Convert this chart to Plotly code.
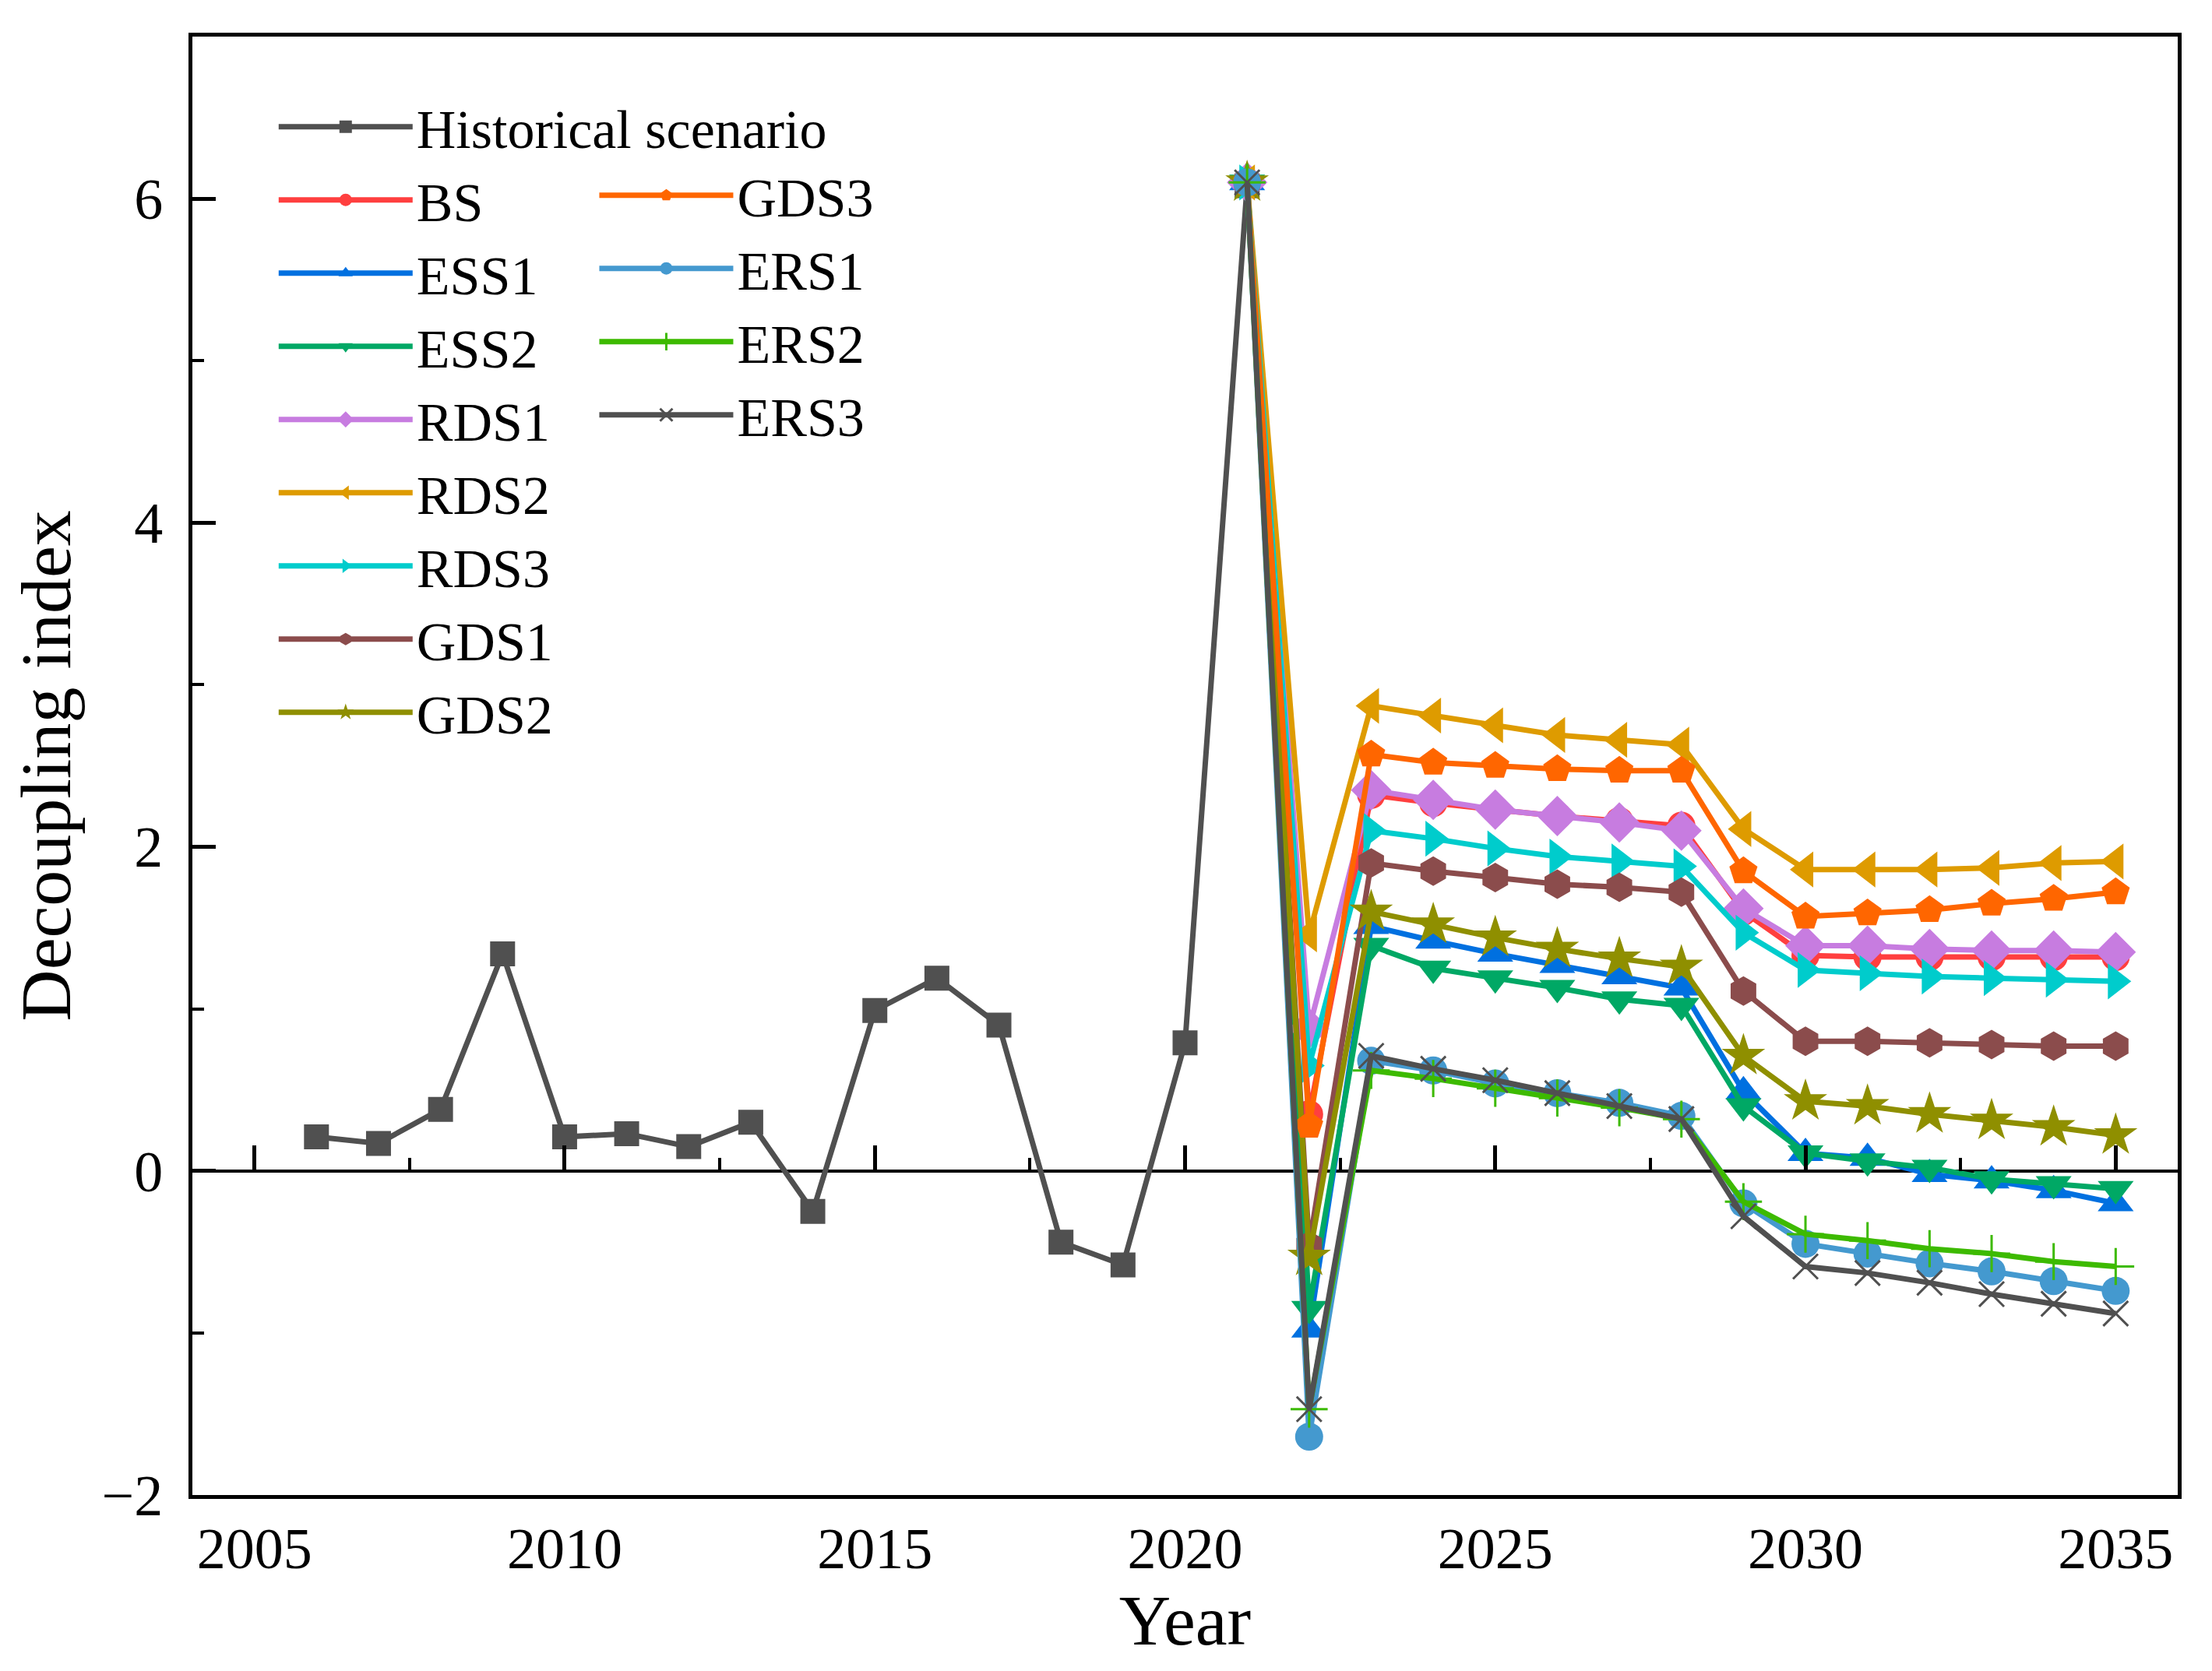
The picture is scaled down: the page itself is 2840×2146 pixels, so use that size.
import plotly.graph_objects as go

# historical decoupling index 2006-2021
hist_years = list(range(2006, 2022))
hist_vals = [0.21, 0.17, 0.38, 1.34, 0.21, 0.23, 0.15, 0.30, -0.25, 0.99,
             1.19, 0.90, -0.44, -0.58, 0.79, 6.08]

# scenario projections 2021-2035
scen_years = list(range(2021, 2036))
bs = [6.1, 0.35, 2.32, 2.27, 2.23, 2.19, 2.16, 2.13, 1.60, 1.33, 1.32, 1.32, 1.32, 1.32, 1.32]
ess1 = [6.1, -0.98, 1.51, 1.42, 1.34, 1.27, 1.20, 1.13, 0.49, 0.11, 0.08, -0.02, -0.06, -0.12, -0.20]
ess2 = [6.1, -0.85, 1.39, 1.25, 1.19, 1.13, 1.06, 1.02, 0.40, 0.11, 0.06, 0.02, -0.05, -0.08, -0.11]
rds1 = [6.1, 0.88, 2.35, 2.29, 2.23, 2.19, 2.15, 2.10, 1.62, 1.39, 1.39, 1.37, 1.36, 1.36, 1.35]
rds2 = [6.1, 1.46, 2.87, 2.81, 2.75, 2.69, 2.66, 2.63, 2.11, 1.86, 1.86, 1.86, 1.87, 1.90, 1.91]
rds3 = [6.1, 0.65, 2.10, 2.05, 1.99, 1.94, 1.91, 1.88, 1.47, 1.24, 1.22, 1.20, 1.19, 1.18, 1.17]
gds1 = [6.1, -0.46, 1.90, 1.85, 1.81, 1.77, 1.75, 1.72, 1.11, 0.80, 0.80, 0.79, 0.78, 0.77, 0.77]
gds2 = [6.1, -0.53, 1.60, 1.52, 1.44, 1.37, 1.31, 1.26, 0.71, 0.43, 0.40, 0.35, 0.31, 0.27, 0.22]
gds3 = [6.1, 0.28, 2.57, 2.52, 2.50, 2.48, 2.47, 2.47, 1.85, 1.57, 1.59, 1.61, 1.65, 1.68, 1.72]
ers1 = [6.1, -1.64, 0.68, 0.62, 0.54, 0.48, 0.42, 0.34, -0.20, -0.45, -0.51, -0.57, -0.62, -0.68, -0.74]
ers2 = [6.1, -1.47, 0.62, 0.57, 0.51, 0.45, 0.39, 0.32, -0.19, -0.39, -0.43, -0.48, -0.51, -0.56, -0.59]
ers3 = [6.1, -1.47, 0.71, 0.63, 0.56, 0.48, 0.40, 0.32, -0.28, -0.59, -0.63, -0.69, -0.76, -0.82, -0.88]

FONT = 'Liberation Serif'

# name, values, colour, symbol, marker size, legend
scenarios = [
    ('BS', bs, '#FF3F3F', 'circle', 36, 'legend'),
    ('ESS1', ess1, '#0070E0', 'triangle-up', 40, 'legend'),
    ('ESS2', ess2, '#00A865', 'triangle-down', 40, 'legend'),
    ('RDS1', rds1, '#C77CE0', 'diamond', 40, 'legend'),
    ('RDS2', rds2, '#DE9B00', 'triangle-left', 40, 'legend'),
    ('RDS3', rds3, '#00CCCC', 'triangle-right', 40, 'legend'),
    ('GDS1', gds1, '#8B4C4C', 'hexagon', 38, 'legend'),
    ('GDS2', gds2, '#8F8F00', 'star', 42, 'legend'),
    ('GDS3', gds3, '#FF6600', 'pentagon', 38, 'legend2'),
    ('ERS1', ers1, '#4499CF', 'circle', 36, 'legend2'),
    ('ERS2', ers2, '#3DBA00', 'cross-thin', 34, 'legend2'),
    ('ERS3', ers3, '#505050', 'x-thin', 32, 'legend2'),
]

fig = go.Figure()

fig.add_trace(go.Scatter(x=hist_years, y=hist_vals, name='Historical scenario',
                         mode='lines+markers', legend='legend',
                         line=dict(color='#505050', width=7),
                         marker=dict(symbol='square', size=32, color='#505050')))

for name, vals, color, symbol, size, leg in scenarios:
    marker = dict(symbol=symbol, size=size, color=color)
    if symbol.endswith('-thin'):
        marker['line'] = dict(color=color, width=3)
    fig.add_trace(go.Scatter(x=scen_years, y=vals, name=name, mode='lines+markers',
                             legend=leg, line=dict(color=color, width=7), marker=marker))

# empty trace so the tick axis on the zero line is drawn
fig.add_trace(go.Scatter(x=[], y=[], xaxis='x2', showlegend=False, hoverinfo='skip'))

tickfont = dict(family=FONT, size=74, color='black')
legfont = dict(family=FONT, size=70, color='black')

# page body keeps its default 8px margin, so the figure is 16px smaller
fig.update_layout(
    width=2824, height=2130,
    margin=dict(l=239, r=36, t=39, b=218),
    paper_bgcolor='white', plot_bgcolor='white',
    font=dict(family=FONT, color='black'),
    xaxis=dict(range=[2004, 2036], showline=True, mirror=True, linecolor='black',
               linewidth=5, showgrid=False, zeroline=False, ticks='',
               tick0=2005, dtick=5, tickfont=tickfont,
               title=dict(text='Year', font=dict(family=FONT, size=92), standoff=20)),
    xaxis2=dict(range=[2004, 2036], overlaying='x', anchor='free', position=2 / 9,
                showline=False, showgrid=False, zeroline=False, showticklabels=False,
                ticks='inside', ticklen=33, tickwidth=5, tickcolor='black',
                tick0=2005, dtick=5,
                minor=dict(ticks='inside', ticklen=17, tickwidth=4, tickcolor='black',
                           tick0=2005, dtick=2.5)),
    yaxis=dict(range=[-2, 7], showline=True, mirror=True, linecolor='black',
               linewidth=5, showgrid=False, zeroline=True, zerolinecolor='black',
               zerolinewidth=4, ticks='inside', ticklen=30, tickwidth=5,
               tickcolor='black', tickvals=[-2, 0, 2, 4, 6], tickfont=tickfont,
               ticklabelstandoff=18,
               minor=dict(ticks='inside', ticklen=15, tickwidth=4, tickcolor='black',
                          tickvals=[-1, 1, 3, 5, 7]),
               title=dict(text='Decoupling index', font=dict(family=FONT, size=92),
                          standoff=25)),
    legend=dict(x=0.0415, y=0.966, xanchor='left', yanchor='top',
                bgcolor='rgba(0,0,0,0)', font=legfont,
                tracegroupgap=0, itemsizing='trace', itemwidth=172),
    legend2=dict(x=0.203, y=0.919, xanchor='left', yanchor='top',
                 bgcolor='rgba(0,0,0,0)', font=legfont,
                 tracegroupgap=0, itemsizing='trace', itemwidth=172),
    showlegend=True,
)

fig.write_html('out.html')
